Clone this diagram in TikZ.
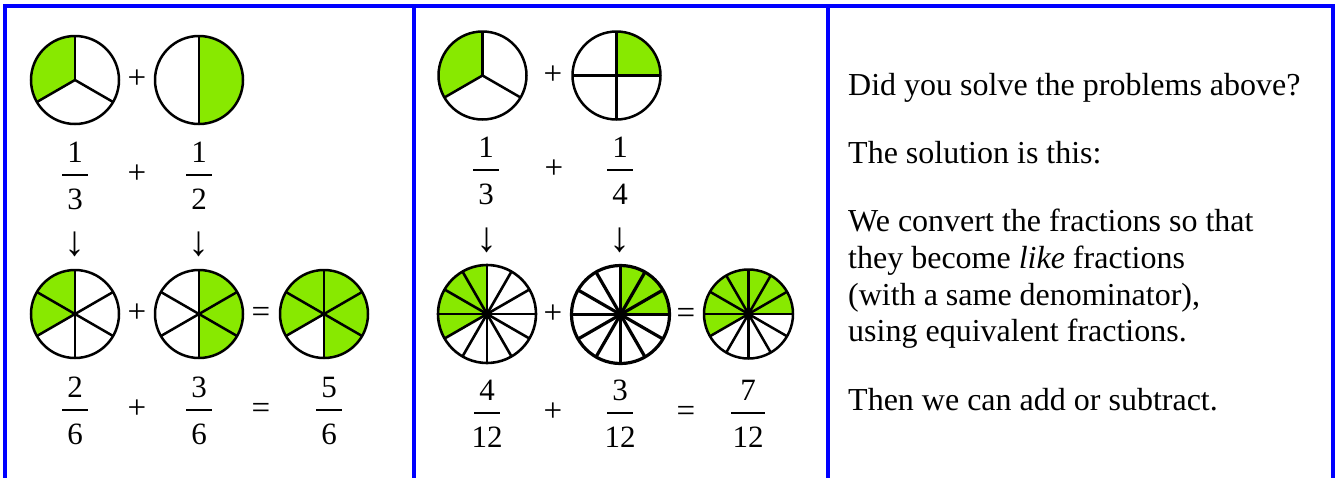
\documentclass[tikz,border=0pt]{standalone}
\usepackage{fontspec}
\setmainfont{Liberation Serif}
\definecolor{piegreen}{RGB}{136,233,0}
\definecolor{frameblue}{RGB}{0,0,255}
% #1 name, #2 x, #3 y, #4 radius, #5 parts, #6 start, #7 end, #8 line width
\newcommand\drawpie[8]{%
  \coordinate (#1) at (#2,#3);
  \fill[piegreen] (#1) -- ++(#6:#4) arc[start angle=#6,end angle=#7,radius=#4] -- cycle;
  \foreach \k in {1,...,#5} \draw[line width=#8] (#1) -- ++({90+360*\k/#5}:#4);
  \draw[line width=#8] (#1) circle[radius=#4];
}
% #1 name, #2 x, #3 bar y, #4 numerator, #5 denominator, #6 bar width
\newcommand\frc[6]{%
  \node[digit] (#1n) at (#2,{#3+12.5}) {#4};
  \node[digit] (#1d) at (#2,{#3-34}) {#5};
  \draw[line width=2.4] ({#2-#6/2},#3) -- ({#2+#6/2},#3);
}
\tikzset{
  digit/.style={anchor=base,inner sep=0pt,font=\fontsize{31}{34}\selectfont},
  op/.style={anchor=base,inner sep=0pt,font=\fontsize{33}{34}\selectfont},
  downarr/.style={anchor=center,inner sep=0pt,font=\fontsize{42}{44}\selectfont},
  para/.style={anchor=base west,inner sep=0pt,font=\fontsize{32}{36.7}\selectfont},
}
\begin{document}
\begin{tikzpicture}[x=1pt,y=1pt]
\useasboundingbox (0,0) rectangle (1336,-477);
\fill[white] (0,0) rectangle (1336,-477);
% frame
\draw[frameblue,line width=4,line join=miter] (5,-490) -- (5,-6) -- (1333,-6) -- (1333,-490);
\draw[frameblue,line width=4] (414,-6) -- (414,-490);
\draw[frameblue,line width=4] (828,-6) -- (828,-490);

% ---------- panel 1 ----------
\drawpie{pa}{75}{-80}{44}{3}{90}{210}{2.5}
\node[op] (pa1) at (137,-88) {+};
\drawpie{pb}{199}{-80}{44}{2}{-90}{90}{2.5}
\frc{fa}{75}{-175}{1}{3}{26}
\node[op] (pa2) at (137,-183) {+};
\frc{fb}{199}{-175}{1}{2}{26}
\node[downarr] (aa) at (75,-244) {↓};
\node[downarr] (ab) at (199,-244) {↓};
\drawpie{pc}{75}{-314}{44}{6}{90}{210}{2.5}
\node[op] (pa3) at (137,-322.5) {+};
\drawpie{pd}{199}{-314}{44}{6}{-90}{90}{2.5}
\node[op] (pa4) at (261,-322.5) {=};
\drawpie{pe}{324}{-314}{44}{6}{-90}{210}{2.5}
\frc{fc}{75}{-410}{2}{6}{26}
\node[op] (pa5) at (137,-418) {+};
\frc{fd}{199}{-410}{3}{6}{26}
\node[op] (pa6) at (261,-418) {=};
\frc{fe}{329}{-410}{5}{6}{26}

% ---------- panel 2 ----------
\drawpie{qa}{482.5}{-75.5}{44}{3}{90}{210}{2.5}
\node[op] (qb1) at (553,-84) {+};
\drawpie{qb}{616.5}{-75.5}{44}{4}{0}{90}{2.5}
\frc{ga}{486}{-170}{1}{3}{26}
\node[op] (qb2) at (554,-178) {+};
\frc{gb}{620}{-170}{1}{4}{26}
\node[downarr] (ba) at (487,-240) {↓};
\node[downarr] (bb) at (620,-240) {↓};
\drawpie{qc}{487}{-314}{49}{12}{90}{210}{2.6}
\node[op] (qb3) at (553,-323) {+};
\drawpie{qd}{620.5}{-314.5}{49}{12}{0}{90}{3.2}
\node[op] (qb4) at (686,-323) {=};
\drawpie{qe}{748.5}{-314}{44.5}{12}{0}{210}{2.5}
\frc{gc}{487}{-413}{4}{12}{26}
\node[op] (qb5) at (553,-421) {+};
\frc{gd}{620}{-413}{3}{12}{26}
\node[op] (qb6) at (686,-421) {=};
\frc{ge}{748}{-413}{7}{12}{34}

% ---------- panel 3 ----------
\node[para] (t1) at (848,-95) {Did you solve the problems above?};
\node[para] (t2) at (848,-163.3) {The solution is this:};
\node[para] (t3) at (848,-231.7) {We convert the fractions so that};
\node[para] (t4) at (848,-268.3) {they become \textit{like} fractions};
\node[para] (t5) at (848,-305) {(with a same denominator),};
\node[para] (t6) at (848,-341.7) {using equivalent fractions.};
\node[para] (t7) at (848,-410.7) {Then we can add or subtract.};
\end{tikzpicture}
\end{document}
